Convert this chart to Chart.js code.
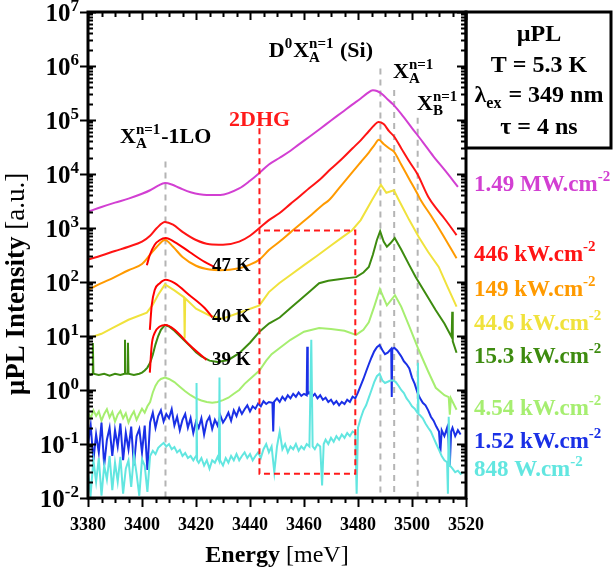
<!DOCTYPE html>
<html>
<head>
<meta charset="utf-8">
<script src="https://cdn.jsdelivr.net/npm/chart.js@4"></script>
<style>
  html, body { margin: 0; padding: 0; background: #fff; }
  #wrap { width: 613px; height: 570px; }
</style>
</head>
<body>
<div id="wrap"><canvas id="plChart" width="613" height="570"></canvas></div>
<script>
// spectra: energy [meV] / intensity [a.u.]
const mwE = [3380,3385,3390,3395,3400,3403,3406,3408.5,3411,3414,3418,3424,3429,3436,3440,3443.5,3447,3451,3455,3458,3462,3466,3470,3474,3478,3481,3483.5,3485.5,3487,3489,3491,3493,3496,3500,3504,3508,3512,3517];
const mwI = [2000,2450,2950,3500,4300,5000,6100,6800,6400,5500,4600,4100,4100,5400,7500,10500,15000,20000,27000,35000,49000,69000,98000,138000,195000,250000,315000,355000,345000,300000,240000,195000,130000,71000,39000,21000,12000,5800];

const kw446E = [3380,3385,3390,3395,3400,3403,3405.5,3408.5,3411.5,3415,3420,3425,3430,3436,3440,3443.5,3447,3451,3455,3458,3462,3466,3470,3474,3478,3481,3484,3486,3487.5,3489.5,3491.5,3493.3,3496,3499,3502,3506,3509,3512,3516.5];
const kw446I = [260,310,375,450,560,720,1000,1290,1150,850,600,500,490,560,720,1000,1400,1900,2800,3700,5500,8000,12500,19000,30000,42000,62000,80000,92000,84000,62000,50000,30000,17000,10000,3800,2300,1500,740];

const kw149E = [3380,3385,3389,3395,3400,3403,3405.5,3408.5,3411.5,3415,3420,3425,3429,3436,3440,3443.5,3447,3451,3455,3459,3463,3467,3469.3,3473,3477,3481,3484,3486,3487.7,3489.5,3491.5,3493.3,3496,3499,3502,3503.2,3507,3511,3516.5];
const kw149I = [71,95,117,165,215,320,450,600,450,290,200,170,165,180,210,260,390,560,830,1230,1800,2700,3300,5500,9500,16500,25000,34000,43000,36000,30000,26000,15000,8000,4300,3300,1700,810,275];

const kw44E = [3380,3385,3389,3395,3401.8,3404,3406,3408.5,3412,3415.6,3415.8,3416,3420,3425,3429.8,3436,3443.5,3447,3450.8,3455,3460,3465,3470,3474,3477.8,3481,3485.2,3488.5,3490.5,3493.3,3495.1,3499,3502.5,3506,3509.9,3513,3516.5];
const kw44I = [9.1,11,14,20,27,38,58,90,70,52,9,50,32,24,21,27,37,65,95,135,205,310,475,665,910,1400,3300,6300,4500,5000,3300,1400,680,360,190,85,35];

const kw15E = [3380,3381,3381.6,3381.8,3382,3384,3386,3388,3390,3392,3393.5,3393.7,3393.9,3394.6,3394.8,3395,3397,3399,3400,3401,3402,3403,3404,3405,3406,3407,3408.5,3410,3412,3414,3416,3418,3420,3422,3425,3428,3432,3436,3440,3443.5,3447,3451,3455,3459,3462,3465.6,3469,3473,3476,3479.3,3482,3484,3485.5,3487,3488.2,3489.5,3490.7,3492,3493.6,3496,3499,3501.4,3505,3508.8,3512,3514.7,3514.9,3515.1,3516.5];
const kw15I = [2.0,1.9,2.0,7.4,2.0,1.9,2.0,1.85,2.0,1.9,2.0,8.5,2.0,2.0,7.5,2.0,1.9,2.0,2.1,2.3,2.6,3.2,4.5,7,10,13,16,15,12.5,10,8,6.4,5,4.2,3.5,3.3,3.6,4.8,7.5,12,17,22,33,49,66,95,105,112,118,123,150,190,320,600,870,560,450,520,650,400,205,123,62,30,17,9.5,28,8,4.9];

const kw4E = [3380,3381,3382,3383,3384,3385,3386,3387,3388,3389,3390,3391,3392,3393,3394,3395,3396,3397,3398,3399,3400,3401,3402,3403,3404,3405,3406,3407,3408.5,3410,3412,3414,3416,3418,3420,3422,3424,3426,3428,3430,3432,3434,3436,3438,3440,3443.5,3446,3448,3451,3455,3460,3465.6,3470,3475,3479.3,3482,3484,3486,3488.1,3490.7,3493.7,3496,3499,3502.5,3506,3508.8,3512,3513.6,3514,3514.4,3516.5];
const kw4I = [0.38,0.3,0.42,0.33,0.4,0.27,0.36,0.44,0.31,0.39,0.26,0.35,0.41,0.3,0.37,0.25,0.33,0.4,0.28,0.36,0.45,0.38,0.5,0.6,0.9,1.2,1.45,1.6,1.7,1.6,1.4,1.15,0.95,0.8,0.7,0.64,0.6,0.58,0.6,0.65,0.72,0.85,1.0,1.3,1.6,2.3,3.5,4.6,6.0,8.5,12,14,13.5,12.5,10.5,13,18,35,74,37,57,35,15,5.5,2.2,1.1,0.8,0.74,0.35,0.7,0.43];

const kw1E = [3380,3381,3382,3383,3384,3385,3386,3387,3388,3389,3390,3391,3392,3393,3394,3395,3396,3397,3398,3399,3400,3401,3402,
  3403,3404,3405,3406,3407,3408,3409,3410,3411,3412,3413,3414,3415,3416,3417,3418,3419,3420,
  3421,3422,3423,3424,3425,3426,3427,3428,3429,3430,3431,3432,3433,3434,3435,3436,3437,3438,3439,3440,3441,3442,3443,
  3444,3445,3446,3447,3448.3,3448.6,3448.9,3450,3451,3452,3453,3454,3455,3456,3457,3458,3459,3460,3461,3461.2,3461.4,
  3462,3463,3464,3465,3466,3467,3468,3469,3470,3471,3472,3473,3474,3475,3476,3477,3478,3479,3480,
  3481,3482,3483,3484,3485,3486,3487,3488,3489,3490,3491,3492,3492.3,3492.5,3492.7,3493.5,3494.5,3496,3497,3498,3499,3500,
  3501,3502,3503,3504,3505,3506,3507,3508,3509,3510,3510.5,3511,3512,3513,3513.5,3514,3514.5,3515,3516,3517,3518];
const kw1I = [0.10,0.22,0.05,0.15,0.07,0.25,0.04,0.12,0.2,0.06,0.18,0.09,0.24,0.05,0.16,0.08,0.21,0.04,0.14,0.19,0.07,0.22,0.033,
  0.25,0.38,0.2,0.33,0.42,0.26,0.36,0.3,0.44,0.22,0.32,0.18,0.28,0.36,0.2,0.3,0.16,0.26,
  0.2,0.3,0.15,0.26,0.32,0.19,0.28,0.22,0.34,0.25,0.3,0.38,0.27,0.42,0.33,0.46,0.36,0.44,0.52,0.4,0.5,0.45,0.56,
  0.5,0.62,0.55,0.6,0.58,0.17,0.6,0.7,0.6,0.75,0.65,0.8,0.7,0.85,0.75,0.9,0.78,0.85,0.8,6.3,0.85,
  0.9,0.75,0.85,0.7,0.8,0.66,0.72,0.6,0.66,0.55,0.62,0.52,0.6,0.55,0.66,0.6,0.75,0.7,0.9,
  1.2,1.6,2.2,3.0,4.0,5.2,6.2,6.8,5.5,4.6,4.9,5.6,5.8,0.74,5.8,6.0,5.4,4.2,3.4,3.0,2.5,1.7,
  1.3,0.9,0.7,0.58,0.52,0.42,0.32,0.27,0.21,0.17,0.07,0.18,0.14,0.2,0.12,0.04,0.17,0.2,0.14,0.18,0.15];

const w848E = [3380,3381,3382,3383,3384,3385,3386,3387,3388,3389,3390,3391,3392,3393,3394,3395,3396,3397,3398,3399,3400,3401,3402,
  3403,3404,3405,3406,3407,3408,3409,3410,3411,3412,3413,3414,3415,3416,3417,3418,3419,3420,3420.2,3420.4,
  3421,3422,3423,3424,3425,3426,3427,3428,3428.5,3428.7,3428.9,
  3430,3431,3432,3433,3434,3435,3436,3437,3438,3439,3440,3441,3442,3443,3444,
  3445,3446,3447,3448,3449,3450,3451,3452,3453,3454,3455,3456,3457,3458,3459,3460,3461,3462,3462.7,3463.2,
  3464,3465,3466,3466.7,3467.3,3468,3469,3470,3471,3472,3473,3474,3475,3476,3477,3478,3479,3479.5,3480,
  3481,3482,3483,3484,3485,3486,3487,3488,3489,3490,3491,3492,3493,3494,3495,3496,3497,3498,3499,3500,3501,3502,3502.2,3502.4,
  3503,3504,3505,3506,3507,3508,3509,3510,3511,3512,3513,3513.3,3513.6,3514,3515,3516,3517,3518,3519];
const w848I = [0.03,0.012,0.05,0.02,0.055,0.011,0.04,0.022,0.06,0.014,0.045,0.02,0.058,0.012,0.035,0.05,0.016,0.062,0.028,0.011,0.052,0.04,0.013,
  0.06,0.075,0.065,0.085,0.095,0.105,0.09,0.1,0.08,0.088,0.07,0.078,0.06,0.068,0.055,0.06,0.05,0.06,1.35,0.05,
  0.045,0.055,0.04,0.05,0.035,0.05,0.045,0.058,0.05,1.7,0.05,
  0.04,0.055,0.045,0.06,0.05,0.065,0.05,0.06,0.07,0.055,0.065,0.05,0.06,0.07,0.055,
  0.08,0.1,0.07,0.09,0.03,0.09,0.17,0.08,0.1,0.07,0.09,0.08,0.1,0.075,0.09,0.08,0.1,0.09,8.5,0.09,
  0.08,0.1,0.09,0.017,0.1,0.12,0.1,0.13,0.11,0.14,0.12,0.15,0.13,0.16,0.14,0.17,0.16,0.012,0.2,
  0.3,0.42,0.52,0.72,1.0,1.4,1.8,2.0,1.5,1.35,1.42,1.5,1.5,1.4,1.2,1.0,0.88,0.7,0.6,0.5,0.45,0.38,3.2,0.36,
  0.34,0.3,0.24,0.2,0.17,0.13,0.1,0.078,0.06,0.05,0.046,0.012,0.32,0.04,0.035,0.03,0.032,0.028,0.03];

// temperature fits of the X_A-1LO band
const fit47E = [3401.8,3402.9,3404.7,3406.6,3408.8,3412.1,3417.6,3423.2,3426.9];
const fit47I = [205,316,490,600,650,550,360,235,190];
const fit40E = [3402.9,3403.6,3404.7,3406.6,3408.8,3412.1,3417.6,3423.2,3426.1];
const fit40I = [13,37,71,95,110,95,57,33,22];
const fit39E = [3402.9,3403.6,3404.7,3406.6,3408.8,3412.1,3417.6,3423.9];
const fit39I = [2.1,6.8,11.4,15,16,13,6.8,3.6];

// guide lines
const grayLineE = [3408.7, 3488.3, 3493.4, 3502.1];
const grayLineTop = [1.7e4, 9e5, 3.6e5, 1.1e5];
const dhgBoxE = [3443.5, 3443.5, 3479, 3479, 3443.5];
const dhgBoxI = [7e4, 0.028, 0.028, 900, 900];

const powerLabels = ['1.49 MW.cm', '446 kW.cm', '149 kW.cm', '44.6 kW.cm', '15.3 kW.cm', '4.54 kW.cm', '1.52 kW.cm', '848 W.cm'];
const powerColors = ['#d23fd2', '#ff1414', '#ff9a00', '#f0e23c', '#3d8b0f', '#a6ee70', '#1a30e6', '#62e6e0'];
const tempLabels = ['47 K', '40 K', '39 K'];
const xTicks = [3380, 3400, 3420, 3440, 3460, 3480, 3500, 3520];
const yExponents = [-2, -1, 0, 1, 2, 3, 4, 5, 6, 7];

const SERIF = '"Liberation Serif", "Times New Roman", serif';
function fnt(size, bold) { return (bold ? 'bold ' : '') + size + 'px ' + SERIF; }

function pts(xs, ys) { return xs.map((x, i) => ({ x: x, y: ys[i] })); }

// draw text with sub/superscripts; parts: {t}, {sup, sub}
function rich(ctx, parts, x, y, size, align, color) {
    const small = Math.round(size * 0.66);
    const widths = parts.map(p => {
        if (p.t !== undefined) { ctx.font = fnt(size, !p.normal); return ctx.measureText(p.t).width; }
        ctx.font = fnt(small, true);
        return Math.max(p.sup ? ctx.measureText(p.sup).width : 0, p.sub ? ctx.measureText(p.sub).width : 0) + 1;
    });
    const total = widths.reduce((a, b) => a + b, 0);
    let cx = align === 'center' ? x - total / 2 : (align === 'right' ? x - total : x);
    ctx.fillStyle = color || '#000';
    ctx.textAlign = 'left';
    ctx.textBaseline = 'alphabetic';
    parts.forEach((p, i) => {
        if (p.t !== undefined) {
            ctx.font = fnt(size, !p.normal);
            ctx.fillText(p.t, cx, y);
        } else {
            ctx.font = fnt(small, true);
            if (p.sup) ctx.fillText(p.sup, cx, y - size * 0.42);
            if (p.sub) ctx.fillText(p.sub, cx, y + size * 0.24);
        }
        cx += widths[i];
    });
}

function spectrum(data, color, smooth) {
    return {
        data: data, borderColor: color, borderWidth: 2, pointRadius: 0, fill: false,
        tension: smooth ? 0.4 : 0, cubicInterpolationMode: smooth ? 'monotone' : 'default'
    };
}

const datasets = [];
datasets.push({ data: pts(dhgBoxE, dhgBoxI), borderColor: '#ff1a1a', borderWidth: 2, borderDash: [6, 4], pointRadius: 0, fill: false });
datasets.push(spectrum(pts(fit47E, fit47I), '#ff0000', true));
datasets.push(spectrum(pts(fit40E, fit40I), '#ff0000', true));
datasets.push(spectrum(pts(fit39E, fit39I), '#ff0000', true));
datasets.push(spectrum(pts(w848E, w848I), powerColors[7], false));
datasets.push(spectrum(pts(kw1E, kw1I), powerColors[6], false));
datasets.push(spectrum(pts(kw4E, kw4I), powerColors[5], false));
datasets.push(spectrum(pts(kw15E, kw15I), powerColors[4], false));
datasets.push(spectrum(pts(kw44E, kw44I), powerColors[3], false));
datasets.push(spectrum(pts(kw149E, kw149I), powerColors[2], true));
datasets.push(spectrum(pts(kw446E, kw446I), powerColors[1], true));
datasets.push(spectrum(pts(mwE, mwI), powerColors[0], true));
grayLineE.forEach((e, i) => {
    datasets.push({ data: [{ x: e, y: grayLineTop[i] }, { x: e, y: 0.01 }], borderColor: '#b4b4b4', borderWidth: 2, borderDash: [6, 5], pointRadius: 0, fill: false });
});

// frame, ticks and all text
const decorPlugin = {
    id: 'decor',
    afterDraw(chart) {
        const ctx = chart.ctx;
        const xs = chart.scales.x, ys = chart.scales.y;
        const a = chart.chartArea;
        ctx.save();
        ctx.strokeStyle = '#000';

        // ticks
        ctx.lineWidth = 2;
        ctx.beginPath();
        for (let e = 3380; e <= 3520; e += 5) {
            const px = Math.round(xs.getPixelForValue(e)) + 0.5;
            const major = (e - 3380) % 20 === 0;
            ctx.moveTo(px, a.bottom); ctx.lineTo(px, a.bottom + (major ? 9 : 5));
            ctx.moveTo(px, a.top); ctx.lineTo(px, a.top + (major ? 8 : 5));
        }
        for (let p = -2; p <= 7; p++) {
            for (let m = 1; m <= 9; m++) {
                if (p === 7 && m > 1) break;
                const py = Math.round(ys.getPixelForValue(m * Math.pow(10, p))) + 0.5;
                if (m === 1) {
                    ctx.moveTo(a.left - 8, py); ctx.lineTo(a.left + 8, py);
                    ctx.moveTo(a.right, py); ctx.lineTo(a.right - 9, py);
                } else {
                    ctx.moveTo(a.left, py); ctx.lineTo(a.left + 5, py);
                    ctx.moveTo(a.right, py); ctx.lineTo(a.right - 5, py);
                }
            }
        }
        ctx.stroke();

        // frame
        ctx.lineWidth = 3;
        ctx.strokeRect(a.left, a.top, a.right - a.left, a.bottom - a.top);

        // info box
        ctx.strokeRect(a.right, a.top, 145, 136);
        rich(ctx, [{ t: 'µPL' }], 539, 41, 24, 'center');
        rich(ctx, [{ t: 'T = 5.3 K' }], 539, 72, 24, 'center');
        rich(ctx, [{ t: 'λ' }, { sub: 'ex' }, { t: ' = 349 nm' }], 539, 102, 24, 'center');
        rich(ctx, [{ t: 'τ = 4 ns' }], 539, 134, 24, 'center');

        // tick labels
        xTicks.forEach(v => {
            ctx.font = fnt(18, true);
            ctx.fillStyle = '#000';
            ctx.textAlign = 'center';
            ctx.textBaseline = 'alphabetic';
            ctx.fillText(String(v), xs.getPixelForValue(v), a.bottom + 32);
        });
        yExponents.forEach(p => {
            const py = ys.getPixelForValue(Math.pow(10, p));
            rich(ctx, [{ t: '10' }, { sup: String(p) }], a.left - 8, py + 9, 25, 'right');
        });

        // axis titles
        rich(ctx, [{ t: 'Energy' }, { t: ' [meV]', normal: true }], (a.left + a.right) / 2, 562, 24, 'center');
        ctx.save();
        ctx.translate(24, 284);
        ctx.rotate(-Math.PI / 2);
        rich(ctx, [{ t: 'µPL Intensity' }, { t: ' [a.u.]', normal: true }], 0, 0, 27, 'center');
        ctx.restore();

        // peak labels
        rich(ctx, [{ t: 'X' }, { sup: 'n=1', sub: 'A' }, { t: '-1LO' }], 120, 143, 22, 'left');
        rich(ctx, [{ t: '2DHG' }], 229, 126, 22, 'left', '#ff1a1a');
        rich(ctx, [{ t: 'D' }, { sup: '0' }, { t: 'X' }, { sup: 'n=1', sub: 'A' }, { t: ' (Si)' }], 373, 57, 22, 'right');
        rich(ctx, [{ t: 'X' }, { sup: 'n=1', sub: 'A' }], 393, 78, 22, 'left');
        rich(ctx, [{ t: 'X' }, { sup: 'n=1', sub: 'B' }], 417, 110, 22, 'left');

        // temperatures of the fits
        const tempY = [271, 322, 365];
        tempLabels.forEach((t, i) => rich(ctx, [{ t: t }], 212, tempY[i], 19, 'left'));

        // excitation powers
        const powerY = [191, 261, 296, 330, 363, 415, 448, 476];
        powerLabels.forEach((t, i) => rich(ctx, [{ t: t }, { sup: '-2' }], 474, powerY[i], 23, 'left', powerColors[i]));
        ctx.restore();
    }
};

new Chart(document.getElementById('plChart').getContext('2d'), {
    type: 'line',
    data: { datasets: datasets },
    options: {
        responsive: false,
        animation: false,
        layout: { padding: { left: 88, right: 147, top: 12, bottom: 72 } },
        scales: {
            x: { type: 'linear', min: 3380, max: 3520, display: false },
            y: { type: 'logarithmic', min: 0.01, max: 1e7, display: false }
        },
        plugins: { legend: { display: false }, tooltip: { enabled: false } }
    },
    plugins: [decorPlugin]
});
</script>
</body>
</html>
